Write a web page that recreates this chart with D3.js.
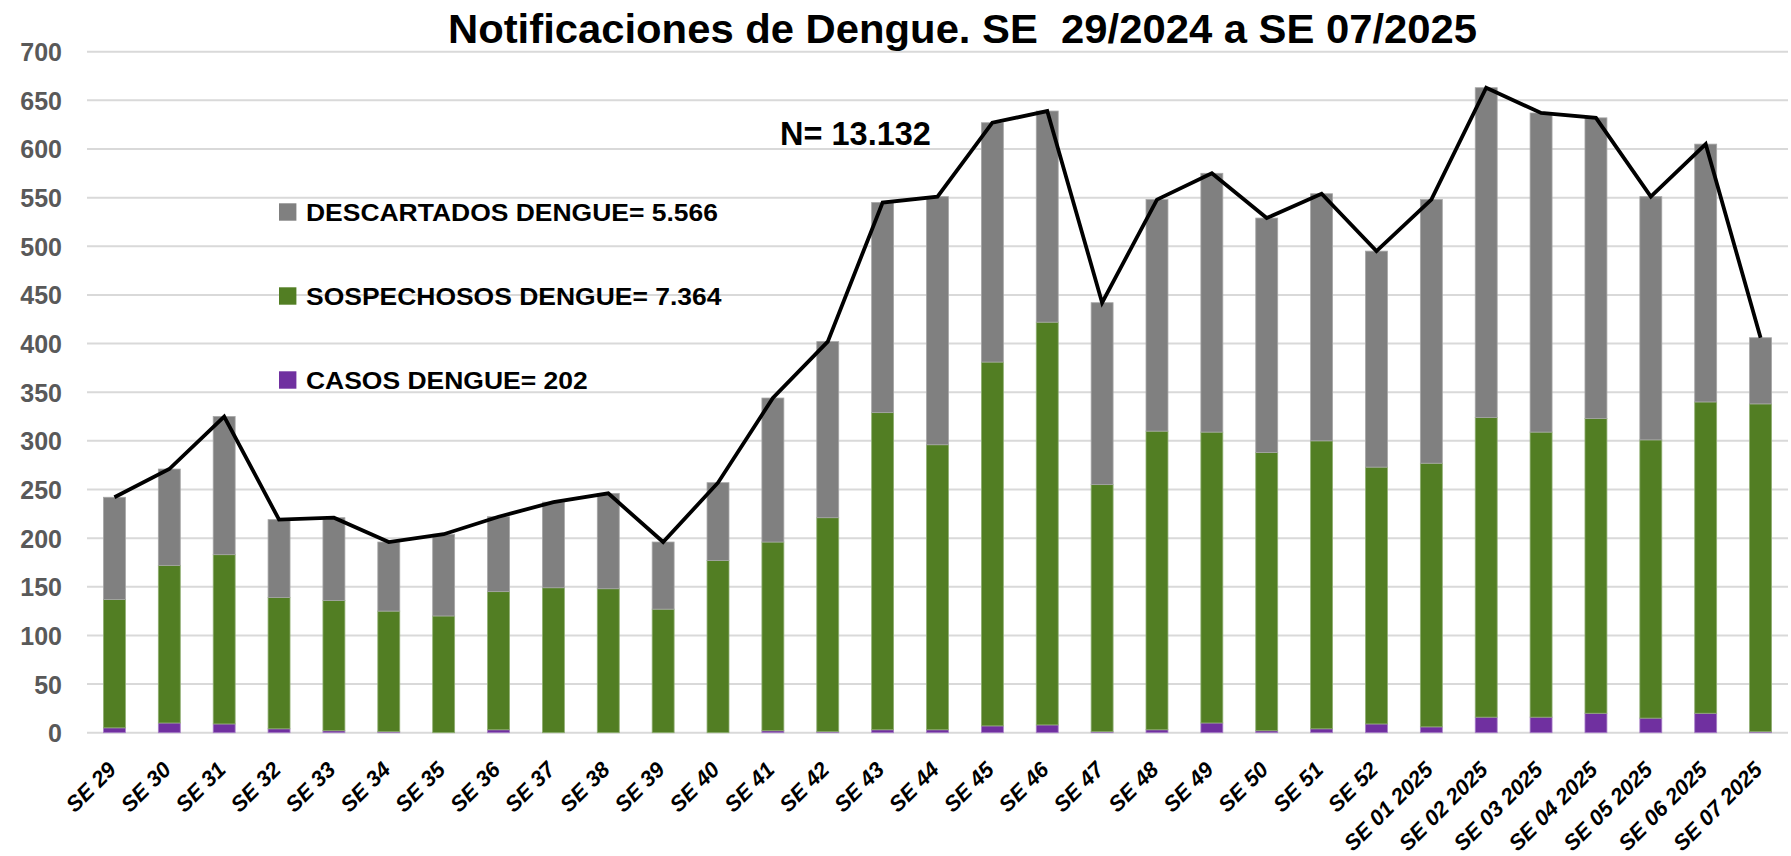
<!DOCTYPE html>
<html>
<head>
<meta charset="utf-8">
<script src="https://cdn.jsdelivr.net/npm/d3@7"></script>
<style>
    body { margin: 0; background: #ffffff; }
    svg { display: block; }
</style>
</head>
<body>
<div id="displayContent"></div>
<script>
// semanas epidemiologicas
const semanas = ["SE 29", "SE 30", "SE 31", "SE 32", "SE 33", "SE 34", "SE 35", "SE 36", "SE 37", "SE 38",
    "SE 39", "SE 40", "SE 41", "SE 42", "SE 43", "SE 44", "SE 45", "SE 46", "SE 47", "SE 48", "SE 49",
    "SE 50", "SE 51", "SE 52", "SE 01 2025", "SE 02 2025", "SE 03 2025", "SE 04 2025", "SE 05 2025",
    "SE 06 2025", "SE 07 2025"];

const casos = [5, 10, 9, 4, 2, 1, 0, 3, 0, 0, 0, 0, 2, 1, 3, 3, 7, 8, 1, 3, 10, 2, 4, 9, 6, 16, 16, 20, 15, 20, 1];
const sospechosos = [132, 162, 174, 135, 134, 124, 120, 142, 149, 148, 127, 177, 194, 220, 326, 293, 374, 414,
    254, 307, 299, 286, 296, 264, 271, 308, 293, 303, 286, 320, 337];
const descartados = [105, 99, 142, 80, 85, 71, 84, 77, 88, 98, 69, 80, 148, 181, 216, 255, 246, 217, 187, 238,
    266, 241, 254, 222, 271, 339, 328, 309, 250, 265, 68];

const yTicks = [0, 50, 100, 150, 200, 250, 300, 350, 400, 450, 500, 550, 600, 650, 700];

const series = [
    { key: "casos", label: "CASOS DENGUE= 202", color: "#7030a0", edge: "#a77fc6" },
    { key: "sospechosos", label: "SOSPECHOSOS DENGUE= 7.364", color: "#527e23", edge: "#8fae72" },
    { key: "descartados", label: "DESCARTADOS DENGUE= 5.566", color: "#808080", edge: "#a6a6a6" }
];

const W = 1791, H = 856;
const FONT = "'Liberation Sans', Arial, sans-serif";

const rows = semanas.map(function(s, i) {
    return { semana: s, casos: casos[i], sospechosos: sospechosos[i], descartados: descartados[i] };
});

const svg = d3.select("#displayContent")
    .append("svg")
    .attr("width", W)
    .attr("height", H)
    .attr("xmlns", "http://www.w3.org/2000/svg");

svg.append("rect").attr("width", W).attr("height", H).attr("fill", "#ffffff");

const x = d3.scaleBand()
    .domain(semanas)
    .range([87, 1788])
    .paddingInner(0.6)
    .paddingOuter(0.3);

const y = d3.scaleLinear()
    .domain([0, 700])
    .range([732.7, 51.7]);

// grid
svg.append("g")
    .selectAll("line")
    .data(yTicks)
    .enter()
    .append("line")
    .attr("x1", 87)
    .attr("x2", 1788)
    .attr("y1", d => y(d))
    .attr("y2", d => y(d))
    .attr("stroke", "#d9d9d9")
    .attr("stroke-width", 2);

// eje y
const yAxis = svg.append("g")
    .attr("transform", "translate(62,0)")
    .call(d3.axisLeft(y).tickValues(yTicks).tickSize(0).tickPadding(0));
yAxis.select(".domain").remove();
yAxis.selectAll("text")
    .attr("fill", "#595959")
    .attr("font-family", FONT)
    .attr("font-size", 25)
    .attr("font-weight", "bold")
    .attr("dy", "0.36em");

// barras apiladas
const stack = d3.stack().keys(series.map(s => s.key));
const layers = stack(rows);

svg.append("g")
    .selectAll("g")
    .data(layers)
    .enter()
    .append("g")
    .attr("fill", (d, i) => series[i].color)
    .attr("stroke", (d, i) => series[i].edge)
    .attr("stroke-width", 0.8)
    .selectAll("rect")
    .data(d => d)
    .enter()
    .append("rect")
    .attr("x", d => x(d.data.semana))
    .attr("width", x.bandwidth())
    .attr("y", d => y(d[1]))
    .attr("height", d => Math.max(0, y(d[0]) - y(d[1])));

// linea total
const line = d3.line()
    .x(d => x(d.data.semana) + x.bandwidth() / 2)
    .y(d => y(d[1]));

svg.append("path")
    .datum(layers[layers.length - 1])
    .attr("fill", "none")
    .attr("stroke", "#000000")
    .attr("stroke-width", 3.8)
    .attr("stroke-linejoin", "miter")
    .attr("d", line);

// eje x
const xAxis = svg.append("g")
    .attr("transform", "translate(0,771)")
    .call(d3.axisBottom(x).tickSize(0).tickPadding(0));
xAxis.select(".domain").remove();
xAxis.selectAll("text")
    .attr("fill", "#000000")
    .attr("font-family", FONT)
    .attr("font-size", 22)
    .attr("font-weight", "bold")
    .attr("font-style", "italic")
    .attr("text-anchor", "end")
    .attr("y", 0)
    .attr("dy", 0)
    .attr("transform", "translate(3,0) rotate(-45)");

// leyenda
const legendRows = [series[2], series[1], series[0]];
const legend = svg.append("g")
    .selectAll("g")
    .data(legendRows)
    .enter()
    .append("g")
    .attr("transform", (d, i) => "translate(279," + (203.3 + i * 84) + ")");

legend.append("rect")
    .attr("width", 17.4)
    .attr("height", 17.4)
    .attr("fill", d => d.color);

legend.append("text")
    .attr("x", 27)
    .attr("y", 17.6)
    .attr("font-family", FONT)
    .attr("font-size", 24.5)
    .attr("font-weight", "bold")
    .attr("fill", "#000000")
    .text(d => d.label)
    .each(function() {
        // el original usa una fuente algo mas ancha
        const w = this.getComputedTextLength();
        d3.select(this).attr("textLength", w * 1.08).attr("lengthAdjust", "spacingAndGlyphs");
    });

// titulo
svg.append("text")
    .attr("x", 448)
    .attr("y", 43)
    .attr("font-family", FONT)
    .attr("font-size", 40)
    .attr("font-weight", "bold")
    .attr("fill", "#000000")
    .attr("textLength", 1029)
    .attr("lengthAdjust", "spacingAndGlyphs")
    .style("white-space", "pre")
    .text("Notificaciones de Dengue. SE  29/2024 a SE 07/2025");

svg.append("text")
    .attr("x", 780)
    .attr("y", 145)
    .attr("font-family", FONT)
    .attr("font-size", 32.5)
    .attr("font-weight", "bold")
    .attr("fill", "#000000")
    .text("N= 13.132");
</script>
</body>
</html>
